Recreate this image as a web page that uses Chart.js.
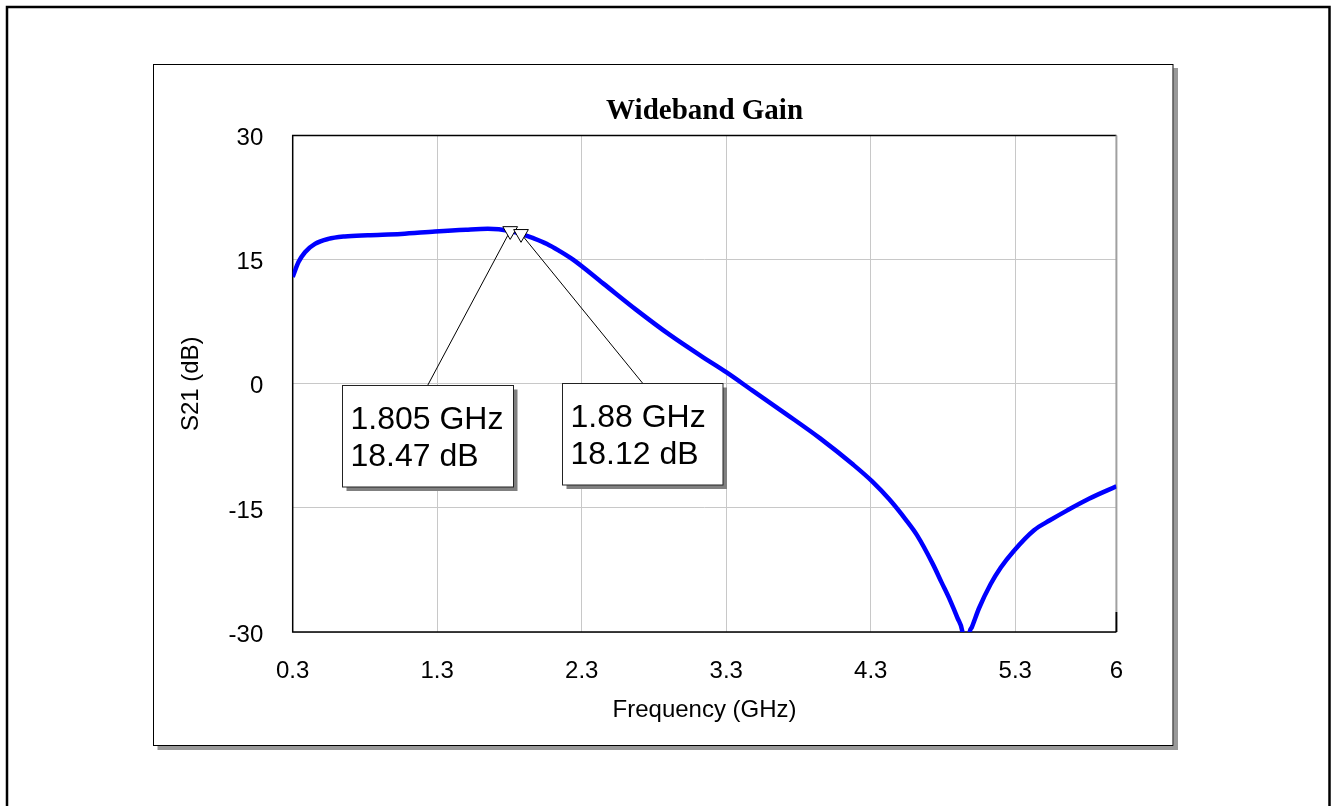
<!DOCTYPE html>
<html lang="en">
<head>
  <meta charset="utf-8">
  <title>Wideband Gain</title>
  <script src="https://cdn.jsdelivr.net/npm/chart.js"></script>
  <style>
    html, body { margin: 0; padding: 0; background: #fff; }
    #wrap { width: 1333px; height: 806px; }
  </style>
</head>
<body>
  <div id="wrap"><canvas id="gainChart" width="1333" height="806"></canvas></div>

  <script>
    // S21 trace (GHz / dB)
    const freqGHz = [0.30, 0.34, 0.385, 0.454, 0.546, 0.66, 0.82, 1.05, 1.285, 1.50, 1.65,
                     1.805, 1.88, 1.965, 2.06, 2.15, 2.24, 2.45, 2.68, 2.91, 3.14, 3.30, 3.48, 3.71,
                     3.95, 4.18, 4.31, 4.43, 4.55, 4.62, 4.73, 4.79, 4.85, 4.90, 4.935, 4.96, 4.985,
                     5.00, 5.05, 5.13, 5.20, 5.29, 5.43, 5.54, 5.66, 5.81, 6.00];
    const s21dB = [12.9, 14.7, 15.9, 16.9, 17.5, 17.8, 17.95, 18.1, 18.4, 18.62, 18.72,
                   18.47, 18.12, 17.6, 16.9, 16.0, 15.0, 12.1, 8.9, 5.9, 3.2, 1.4, -0.8, -3.6,
                   -6.6, -9.8, -11.8, -14.0, -16.6, -18.3, -21.8, -24.0, -26.2, -28.3, -30.0, -34.0, -30.0,
                   -29.4, -27.1, -24.2, -22.2, -20.2, -17.7, -16.5, -15.3, -13.9, -12.4];

    // markers
    const markerFreq = [1.805, 1.88];
    const markerGain = [18.47, 18.12];
    const markerText = [['1.805 GHz', '18.47 dB'], ['1.88 GHz', '18.12 dB']];
    // readout boxes, top-left corner in axis units
    const boxFreq = [0.643, 2.166];
    const boxGain = [-0.17, 0.07];
    const boxWidth = [171, 160.5];

    const xTicks = [0.3, 1.3, 2.3, 3.3, 4.3, 5.3, 6];
    const yTicks = [-30, -15, 0, 15, 30];

    const FONT = "'Liberation Sans', Arial, sans-serif";

    // page frame, panel, plot border, leader lines and readout boxes
    const decor = {
      id: 'decor',
      beforeDraw(chart) {
        const ctx = chart.ctx;
        ctx.save();
        ctx.fillStyle = '#fff';
        ctx.fillRect(0, 0, chart.width, chart.height);
        ctx.strokeStyle = '#000';
        ctx.lineWidth = 2.5;
        ctx.strokeRect(7, 7, 1322.5, 840);
        // panel with drop shadow
        ctx.fillStyle = '#999';
        ctx.fillRect(157.5, 68, 1020.5, 682);
        ctx.fillStyle = '#fff';
        ctx.fillRect(153, 64, 1020.5, 682);
        ctx.lineWidth = 1;
        ctx.strokeStyle = '#000';
        ctx.strokeRect(153.5, 64.5, 1019.5, 681);
        ctx.restore();
      },
      beforeDatasetsDraw(chart) {
        const { ctx, chartArea: a, scales } = chart;
        ctx.save();
        // plot border
        ctx.strokeStyle = '#000';
        ctx.lineWidth = 1.5;
        ctx.beginPath();
        ctx.moveTo(a.right, a.top);
        ctx.lineTo(a.left, a.top);
        ctx.lineTo(a.left, a.bottom);
        ctx.lineTo(a.right, a.bottom);
        ctx.stroke();
        ctx.strokeStyle = '#a0a0a0';
        ctx.lineWidth = 2;
        ctx.beginPath();
        ctx.moveTo(a.right, a.top);
        ctx.lineTo(a.right, a.bottom - 20);
        ctx.stroke();
        ctx.strokeStyle = '#000';
        ctx.beginPath();
        ctx.moveTo(a.right, a.bottom - 20);
        ctx.lineTo(a.right, a.bottom);
        ctx.stroke();
        // leader lines
        ctx.lineWidth = 1;
        ctx.strokeStyle = '#000';
        markerFreq.forEach((f, i) => {
          const bx = scales.x.getPixelForValue(boxFreq[i]) + boxWidth[i] / 2;
          const by = scales.y.getPixelForValue(boxGain[i]);
          ctx.beginPath();
          ctx.moveTo(bx, by);
          ctx.lineTo(scales.x.getPixelForValue(f), scales.y.getPixelForValue(markerGain[i]));
          ctx.stroke();
        });
        ctx.restore();
      },
      afterDraw(chart) {
        const { ctx, scales } = chart;
        ctx.save();
        markerText.forEach((lines, i) => {
          const bx = Math.round(scales.x.getPixelForValue(boxFreq[i])) + 0.5;
          const by = Math.round(scales.y.getPixelForValue(boxGain[i])) + 0.5;
          const w = boxWidth[i], h = 101.5;
          ctx.fillStyle = '#808080';
          ctx.fillRect(bx + 4, by + 4, w, h);
          ctx.fillStyle = '#fff';
          ctx.fillRect(bx, by, w, h);
          ctx.strokeStyle = '#222';
          ctx.lineWidth = 1;
          ctx.strokeRect(bx, by, w, h);
          ctx.fillStyle = '#000';
          ctx.font = '32px ' + FONT;
          ctx.textBaseline = 'alphabetic';
          ctx.fillText(lines[0], bx + 8, by + 43);
          ctx.fillText(lines[1], bx + 8, by + 80);
        });
        ctx.restore();
      }
    };

    document.addEventListener('DOMContentLoaded', function() {
      const ctx = document.getElementById('gainChart').getContext('2d');
      new Chart(ctx, {
        type: 'scatter',
        data: {
          datasets: [
            {
              label: 'markers',
              data: markerFreq.map((f, i) => ({ x: f, y: markerGain[i] })),
              showLine: false,
              pointStyle: 'triangle',
              rotation: 180,
              pointRadius: 8.5,
              borderColor: '#000',
              borderWidth: 1,
              backgroundColor: '#fff'
            },
            {
              label: 'S21',
              data: freqGHz.map((f, i) => ({ x: f, y: s21dB[i] })),
              showLine: true,
              borderColor: '#0000ff',
              borderWidth: 4.5,
              pointRadius: 0,
              cubicInterpolationMode: 'monotone'
            }
          ]
        },
        options: {
          responsive: false,
          animation: false,
          devicePixelRatio: 1,
          events: [],
          layout: { padding: { left: 176.6, top: 94.6, right: 216.6, bottom: 77.6 } },
          plugins: {
            legend: { display: false },
            tooltip: { enabled: false },
            title: {
              display: true,
              text: 'Wideband Gain',
              fullSize: false,
              color: '#000',
              font: { family: "'Liberation Serif', 'Times New Roman', serif", size: 29, weight: 'bold' },
              padding: { top: 0, bottom: 6.1 }
            }
          },
          scales: {
            x: {
              type: 'linear',
              min: 0.3,
              max: 6,
              afterBuildTicks: s => { s.ticks = xTicks.map(v => ({ value: v })); },
              afterFit: s => { s.height = 96.4; },
              grid: { color: '#c8c8c8', lineWidth: 1, drawTicks: false },
              border: { display: false },
              ticks: {
                color: '#000',
                font: { family: FONT, size: 24 },
                padding: 25.3,
                maxRotation: 0,
                autoSkip: false,
                callback: v => String(v)
              },
              title: {
                display: true,
                text: 'Frequency (GHz)',
                color: '#000',
                font: { family: FONT, size: 24 },
                padding: { top: 0, bottom: 4 }
              }
            },
            y: {
              min: -30,
              max: 30,
              afterBuildTicks: s => { s.ticks = yTicks.map(v => ({ value: v })); },
              afterFit: s => { s.width = 116.1; },
              grid: { color: '#c8c8c8', lineWidth: 1, drawTicks: false },
              border: { display: false },
              ticks: {
                color: '#000',
                font: { family: FONT, size: 24 },
                padding: 29.4,
                labelOffset: 3,
                callback: v => String(v)
              },
              title: {
                display: true,
                text: 'S21 (dB)',
                color: '#000',
                font: { family: FONT, size: 24 },
                padding: 0
              }
            }
          }
        },
        plugins: [decor]
      });
    });
  </script>
</body>
</html>
